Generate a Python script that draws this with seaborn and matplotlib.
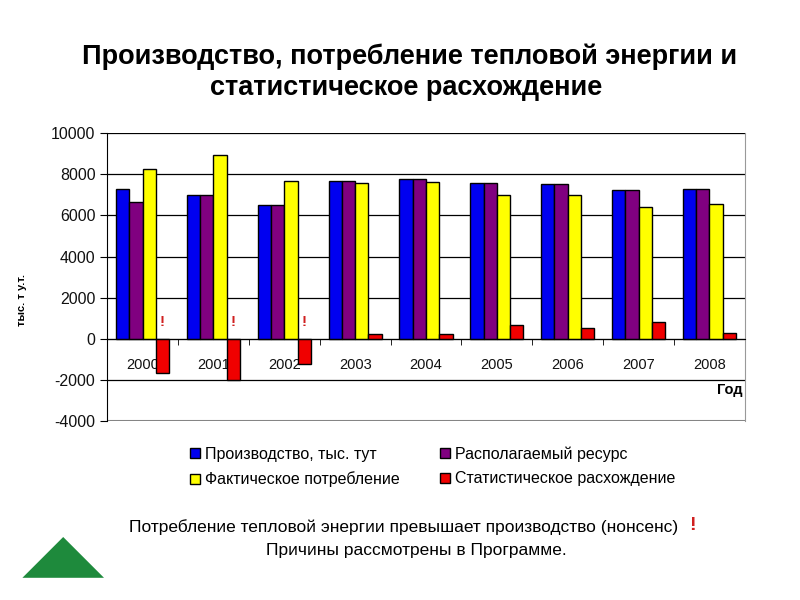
import numpy as np
import pandas as pd
import matplotlib
matplotlib.use("Agg")
import matplotlib.pyplot as plt
from matplotlib.lines import Line2D
from matplotlib.patches import Polygon
import seaborn as sns

years = ["2000", "2001", "2002", "2003", "2004", "2005", "2006", "2007", "2008"]
production = [7270, 6980, 6490, 7700, 7750, 7590, 7510, 7220, 7270]
resource = [6670, 6980, 6490, 7700, 7750, 7590, 7510, 7220, 7270]
consumption = [8260, 8940, 7700, 7590, 7650, 6980, 7020, 6420, 6540]
discrepancy = [-1670, -1980, -1210, 230, 230, 660, 520, 810, 280]

series_names = ["Производство, тыс. тут", "Располагаемый ресурс",
                "Фактическое потребление", "Статистическое расхождение"]
colors = ["#0000F0", "#800080", "#FFFF00", "#F00000"]

df = pd.DataFrame({
    "Год": years * 4,
    "value": production + resource + consumption + discrepancy,
    "series": np.repeat(series_names, len(years)),
})

sns.set_style("white")
plt.rcParams["font.family"] = ["Liberation Sans", "DejaVu Sans"]
plt.rcParams["axes.unicode_minus"] = False
plt.rcParams["text.color"] = "black"

fig = plt.figure(figsize=(8, 6), dpi=100)
ax = fig.add_axes([0.134, 0.298, 0.797, 0.48])

sns.barplot(data=df, x="Год", y="value", hue="series", hue_order=series_names,
            palette=colors, width=0.75, saturation=1, edgecolor="black",
            linewidth=1, legend=False, ax=ax)

ax.set_ylim(-4000, 10000)
ax.set_xlim(-0.5, len(years) - 0.5)
ax.set_yticks(range(-4000, 10001, 2000))
ax.tick_params(axis="y", labelsize=11.5, length=5, direction="out", left=True,
               colors="black", labelcolor="#111111")
ax.yaxis.grid(True, color="black", linewidth=0.9)
ax.set_axisbelow(True)

# category axis at zero
ax.spines["bottom"].set_position(("data", 0))
ax.spines["bottom"].set_color("black")
ax.spines["left"].set_color("black")
ax.spines["top"].set_visible(False)
ax.spines["right"].set_color("#999999")
ax.axhline(-4000, color="#999999", linewidth=1.5, zorder=0)
ax.set_xticks(np.arange(len(years)) + 0.5, minor=True)
ax.tick_params(axis="x", which="minor", length=4, direction="out", bottom=True,
               color="black")
ax.tick_params(axis="x", which="major", length=0, pad=14, labelsize=10.5,
               labelcolor="#111111")
ax.set_xlabel("")
ax.set_ylabel("")

ax.text(0.997, 0.108, "Год", transform=ax.transAxes, ha="right", va="center",
        fontsize=10.5, fontweight="bold")

# exclamation marks over negative discrepancies
for i, v in enumerate(discrepancy):
    if v < 0:
        ax.text(i + 0.28, 800, "!", color="#D02020", ha="center", va="center",
                fontsize=11, fontweight="bold")

fig.text(0.512, 0.905, "Производство, потребление тепловой энергии и",
         ha="center", va="center", fontsize=19.5, fontweight="bold")
fig.text(0.508, 0.853, "статистическое расхождение",
         ha="center", va="center", fontsize=19.5, fontweight="bold")

fig.text(0.028, 0.5, "тыс. т у.т.", rotation=90, ha="center", va="center",
         fontsize=8, fontweight="bold")

handles = [Line2D([], [], marker="s", linestyle="", markersize=7,
                  markerfacecolor=colors[i], markeredgecolor="black")
           for i in [0, 2, 1, 3]]
labels = [series_names[i] for i in [0, 2, 1, 3]]
fig.legend(handles, labels, ncol=2, loc="upper center",
           bbox_to_anchor=(0.54, 0.28), frameon=False, fontsize=11.5,
           handletextpad=0.25, columnspacing=2.4, labelspacing=0.6,
           handlelength=0.8)

fig.text(0.505, 0.122, "Потребление тепловой энергии превышает производство (нонсенс)",
         ha="center", va="center", fontsize=12.5)
fig.text(0.862, 0.124, "!", ha="left", va="center", fontsize=14,
         fontweight="bold", color="#D02020")
fig.text(0.52, 0.083, "Причины рассмотрены в Программе.",
         ha="center", va="center", fontsize=12.5)

# small green logo
fig.patches.append(Polygon([[0.028, 0.037], [0.13, 0.037], [0.079, 0.105]],
                           closed=True, transform=fig.transFigure,
                           facecolor="#1E8A3C", edgecolor="none"))

fig.savefig("out.png", dpi=100)
